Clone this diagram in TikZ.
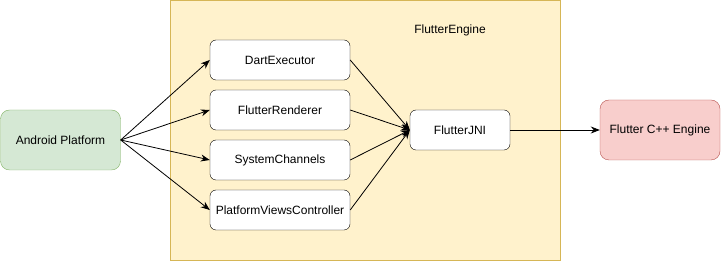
\documentclass[tikz,border=0pt]{standalone}
\usepackage{fontspec}
\setmainfont{Liberation Sans}
\usetikzlibrary{positioning,arrows.meta}
\definecolor{engfill}{HTML}{FFF2CC}
\definecolor{engdraw}{HTML}{D6B656}
\definecolor{andfill}{HTML}{D5E8D4}
\definecolor{anddraw}{HTML}{82B366}
\definecolor{cppfill}{HTML}{F8CECC}
\definecolor{cppdraw}{HTML}{B85450}
\begin{document}
\begin{tikzpicture}[x=1pt,y=-1pt,
font=\fontsize{12}{14}\selectfont,
square/.style={
% The shape:
rectangle,
draw=black,
fill=white,
rounded corners=6pt,
minimum width=140pt,
minimum height=40pt,
inner sep=0pt,
text centered
},
side/.style={
square,
minimum width=120pt,
minimum height=60pt,
rounded corners=9pt
},
link/.style={-{Stealth[length=9pt,width=7pt]},line width=0.8pt}
]
\useasboundingbox (0,0) rectangle (721,261);
% engine container
\node (engine) [draw=engdraw,fill=engfill,minimum width=390pt,minimum height=260pt,inner sep=0pt,anchor=north west] at (170,0.5) {};
\node (enginetitle) at (450,30) {FlutterEngine};
\node (android) [side,draw=anddraw,fill=andfill] at (60.5,140) {Android Platform};
\node (dart) [square] at (280,60) {DartExecutor};
\node (renderer) [square] at (280,110) {FlutterRenderer};
\node (channels) [square] at (280,160) {SystemChannels};
\node (views) [square] at (280,210) {PlatformViewsController};
\node (jni) [square,minimum width=100pt] at (460,130) {FlutterJNI};
\node (cpp) [side,draw=cppdraw,fill=cppfill] at (660,130) {Flutter C++ Engine};
\path (android.east) edge[link] (dart.west) (android.east) edge[link] (renderer.west) (android.east) edge[link] (channels.west) (android.east) edge[link] (views.west);
\path (dart.east) edge[link] (jni.west) (renderer.east) edge[link] (jni.west) (channels.east) edge[link] (jni.west) (views.east) edge[link] (jni.west);
\draw [link] (jni) -- (cpp);
\end{tikzpicture}
\end{document}
